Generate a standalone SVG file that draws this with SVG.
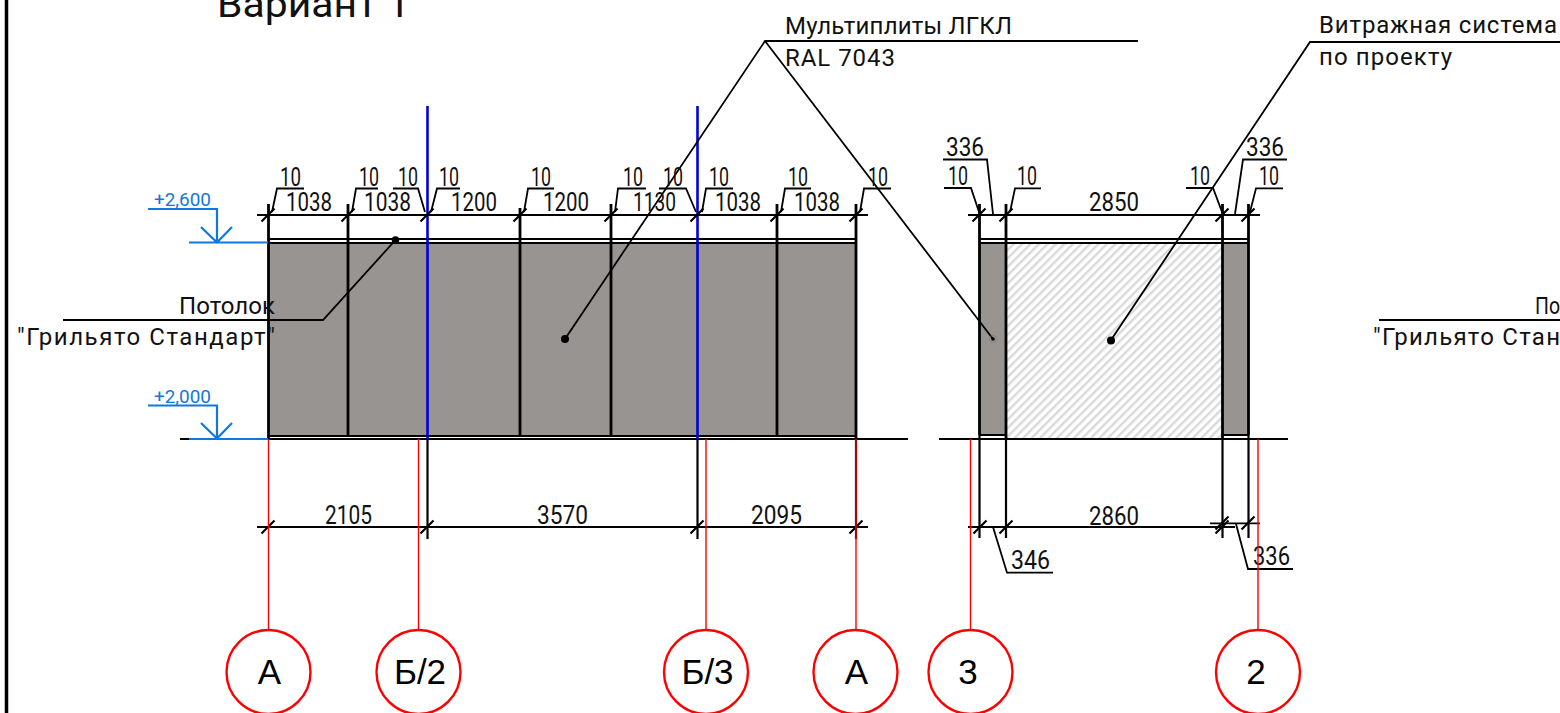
<svg xmlns="http://www.w3.org/2000/svg" width="1560" height="713" viewBox="0 0 1560 713">
<style>
text{font-family:"Roboto","Liberation Sans",sans-serif;fill:#111;font-weight:400}
.d{font-size:25px}
.l{font-size:24px}
.e{font-size:18px;fill:#0f78e0}
.c{font-family:"Liberation Sans",Arial,sans-serif;font-size:35px;fill:#000;text-anchor:middle}
.k{fill:none;stroke:#000;stroke-width:2.2}
.k3{fill:none;stroke:#000;stroke-width:2.8}
.thin{fill:none;stroke:#000;stroke-width:1.8}
.blue{fill:none;stroke:#0000d8;stroke-width:2.6}
.lb{fill:none;stroke:#0f78e0;stroke-width:2.2}
.red{fill:none;stroke:#f00;stroke-width:1.4}
.rc{fill:#fff;stroke:#f00;stroke-width:2.4}
.g{fill:#989492}
</style>
<defs>
<pattern id="h" width="6" height="6" patternUnits="userSpaceOnUse" patternTransform="rotate(45)">
<rect width="6" height="6" fill="#fff"/><rect width="2.4" height="6" fill="#d9d9d9"/>
</pattern>
<path id="t" d="M-6.500 6.500L6.500-6.500" class="k"/>
</defs>
<rect width="1560" height="713" fill="#fff"/>
<path d="M6.500 0V713" stroke="#000" stroke-width="3.500" fill="none"/>

<g id="title"><text x="217" y="17" font-size="37" textLength="193" lengthAdjust="spacingAndGlyphs">Вариант 1</text></g>

<g id="panel-left">
<rect class="g" x="268" y="243" width="589" height="193"/>
<path class="k" d="M268 239H857M268 243H857M268 436H857"/>
<path class="k3" d="M268.500 204V439M348 204V436M520 208V436M611 204V436M777 204V436M856 204V439"/>
</g>
<g id="panel-right">
<rect x="1006" y="243" width="216" height="195" fill="url(#h)"/>
<rect class="g" x="979" y="243" width="27" height="192"/>
<rect class="g" x="1222" y="243" width="27" height="192"/>
<path class="k" d="M979 239H1249M979 243H1249M979 435H1006M1222 435H1249"/>
<path class="k3" d="M979.500 204V435M1006 204V439M1222.500 204V439M1248.500 204V435"/>
<path class="k" d="M979.500 435V538M1006 439V538M1222.500 439V538M1248.500 435V538"/>
</g>
<g id="ground">
<path class="k" d="M180 439H908M939 439H1288"/>
<path class="k" d="M427.500 439V539M697.500 439V539M856 439V539"/>
</g>
<g id="axes">
<path class="blue" d="M427.500 106V439M697.500 106V439"/>
</g>

<g id="connectors">
<path class="k" d="M257 215H868M968 215H1260"/>
<path class="thin" d="M257 527H868M968 527H1235M1210 523.300H1260"/>
<g id="ticks">
<use href="#t" x="268" y="215"/><use href="#t" x="348" y="215"/><use href="#t" x="427" y="215"/><use href="#t" x="520" y="215"/><use href="#t" x="611" y="215"/><use href="#t" x="697" y="215"/><use href="#t" x="777" y="215"/><use href="#t" x="856" y="215"/>
<use href="#t" x="979" y="215"/><use href="#t" x="1006" y="215"/><use href="#t" x="1222" y="215"/><use href="#t" x="1248" y="215"/>
<use href="#t" x="268" y="527"/><use href="#t" x="427" y="527"/><use href="#t" x="697" y="527"/><use href="#t" x="856" y="527"/>
<use href="#t" x="980" y="527"/><use href="#t" x="1006" y="527"/><use href="#t" x="1222" y="527"/><use href="#t" x="1222" y="523"/><use href="#t" x="1248" y="523"/>
</g>
<path class="thin" d="M272 212L277 188.500H304M352 212L356 188.500H378M393 188.500H418L425 212M431 212L437 188.500H460M524 212L528 188.500H554M615 212L618 188.500H646M659 188.500H686L696 212M702 212L706 188.500H733M781 212L785 188.500H811M860 212L864 188.500H891"/>
<path class="thin" d="M943 159.500H987L993 214M944 188H971L979 212M1010 212L1015 188.300H1041M1186 188H1213L1222 212M1235 214L1243 159.500H1287M1250 212L1256 188.300H1283"/>
<path class="thin" d="M993 527L1007 572.700H1053M1236 524L1248 569H1293"/>
<path class="thin" d="M395.500 240L323 320H63"/>
<path class="thin" d="M1138 41H765L565 339M765 41L993 339"/>
<path class="thin" d="M1560 42H1310L1111 340"/>
<path class="thin" d="M1379 320H1560"/>
<circle cx="395.500" cy="240" r="3.800"/><circle cx="565" cy="339" r="4"/><circle cx="1111" cy="340.500" r="4"/>
<circle cx="993" cy="339" r="3.500" fill="none" stroke="#777" stroke-width=".6"/><circle cx="993" cy="339" r="1.800"/>
<path class="lb" d="M148 209H217V243M201 227L217 242.500L232 227M189 242.500H268"/>
<path class="lb" d="M148 405.500H217V439M201 423L217 438.500L232 423M189 439H268"/>
</g>

<g id="dims">
<text class="d" x="280" y="186" textLength="21" lengthAdjust="spacingAndGlyphs">10</text>
<text class="d" x="286" y="211" textLength="46" lengthAdjust="spacingAndGlyphs">1038</text>
<text class="d" x="359" y="186" textLength="20" lengthAdjust="spacingAndGlyphs">10</text>
<text class="d" x="364" y="211" textLength="47" lengthAdjust="spacingAndGlyphs">1038</text>
<text class="d" x="398" y="186" textLength="20" lengthAdjust="spacingAndGlyphs">10</text>
<text class="d" x="439" y="186" textLength="20" lengthAdjust="spacingAndGlyphs">10</text>
<text class="d" x="451" y="211" textLength="46" lengthAdjust="spacingAndGlyphs">1200</text>
<text class="d" x="531" y="186" textLength="20" lengthAdjust="spacingAndGlyphs">10</text>
<text class="d" x="543" y="211" textLength="46" lengthAdjust="spacingAndGlyphs">1200</text>
<text class="d" x="623" y="186" textLength="20" lengthAdjust="spacingAndGlyphs">10</text>
<text class="d" x="633" y="211" textLength="43" lengthAdjust="spacingAndGlyphs">1130</text>
<text class="d" x="663" y="186" textLength="20" lengthAdjust="spacingAndGlyphs">10</text>
<text class="d" x="709" y="186" textLength="20" lengthAdjust="spacingAndGlyphs">10</text>
<text class="d" x="715" y="211" textLength="46" lengthAdjust="spacingAndGlyphs">1038</text>
<text class="d" x="788" y="186" textLength="20" lengthAdjust="spacingAndGlyphs">10</text>
<text class="d" x="794" y="211" textLength="46" lengthAdjust="spacingAndGlyphs">1038</text>
<text class="d" x="868" y="186" textLength="20" lengthAdjust="spacingAndGlyphs">10</text>
<text class="d" x="946" y="156" textLength="38" lengthAdjust="spacingAndGlyphs">336</text>
<text class="d" x="948" y="185" textLength="20" lengthAdjust="spacingAndGlyphs">10</text>
<text class="d" x="1017" y="185" textLength="20" lengthAdjust="spacingAndGlyphs">10</text>
<text class="d" x="1089" y="211" textLength="50" lengthAdjust="spacingAndGlyphs">2850</text>
<text class="d" x="1190" y="185" textLength="20" lengthAdjust="spacingAndGlyphs">10</text>
<text class="d" x="1246" y="156" textLength="38" lengthAdjust="spacingAndGlyphs">336</text>
<text class="d" x="1259" y="185" textLength="20" lengthAdjust="spacingAndGlyphs">10</text>
<text class="d" x="325" y="524" textLength="47" lengthAdjust="spacingAndGlyphs">2105</text>
<text class="d" x="537" y="524" textLength="51" lengthAdjust="spacingAndGlyphs">3570</text>
<text class="d" x="751" y="524" textLength="51" lengthAdjust="spacingAndGlyphs">2095</text>
<text class="d" x="1089" y="525" textLength="50" lengthAdjust="spacingAndGlyphs">2860</text>
<text class="d" x="1011" y="569" textLength="39" lengthAdjust="spacingAndGlyphs">346</text>
<text class="d" x="1253" y="565" textLength="37" lengthAdjust="spacingAndGlyphs">336</text>
<text class="e" x="154" y="206" textLength="57" lengthAdjust="spacingAndGlyphs">+2,600</text>
<text class="e" x="154" y="403" textLength="57" lengthAdjust="spacingAndGlyphs">+2,000</text>
</g>

<g id="labels">
<text class="l" x="179" y="314" textLength="96" lengthAdjust="spacing">Потолок</text>
<text class="l" x="17" y="345" textLength="258" lengthAdjust="spacing">"Грильято Стандарт"</text>
<text class="l" x="785" y="34" textLength="227" lengthAdjust="spacing">Мультиплиты ЛГКЛ</text>
<text class="l" x="785" y="66" textLength="110" lengthAdjust="spacing">RAL 7043</text>
<text class="l" x="1319" y="33" textLength="238" lengthAdjust="spacing">Витражная система</text>
<text class="l" x="1319" y="65" textLength="133" lengthAdjust="spacing">по проекту</text>
<text class="l" x="1535" y="314" textLength="25" lengthAdjust="spacingAndGlyphs">По</text>
<text class="l" x="1373" y="345" textLength="187" lengthAdjust="spacing">"Грильято Стан</text>
</g>

<g id="axis-lines">
<path class="red" d="M268.500 439V630M418.500 439V630M706 439V630M856 439V630M970.500 439V630M1258 439V630"/>
</g>
<g id="axis-A1"><circle class="rc" cx="268.500" cy="672" r="42"/><text class="c" x="269.500" y="684">А</text></g>
<g id="axis-B2"><circle class="rc" cx="418.500" cy="672" r="42"/><text class="c" x="420" y="684">Б/2</text></g>
<g id="axis-B3"><circle class="rc" cx="706" cy="672" r="42"/><text class="c" x="707.500" y="684">Б/3</text></g>
<g id="axis-A2"><circle class="rc" cx="855.500" cy="672" r="42"/><text class="c" x="856.500" y="684">А</text></g>
<g id="axis-3"><circle class="rc" cx="970.500" cy="672" r="42"/><text class="c" x="968" y="684">3</text></g>
<g id="axis-2"><circle class="rc" cx="1258" cy="672" r="42"/><text class="c" x="1256" y="684">2</text></g>
</svg>
